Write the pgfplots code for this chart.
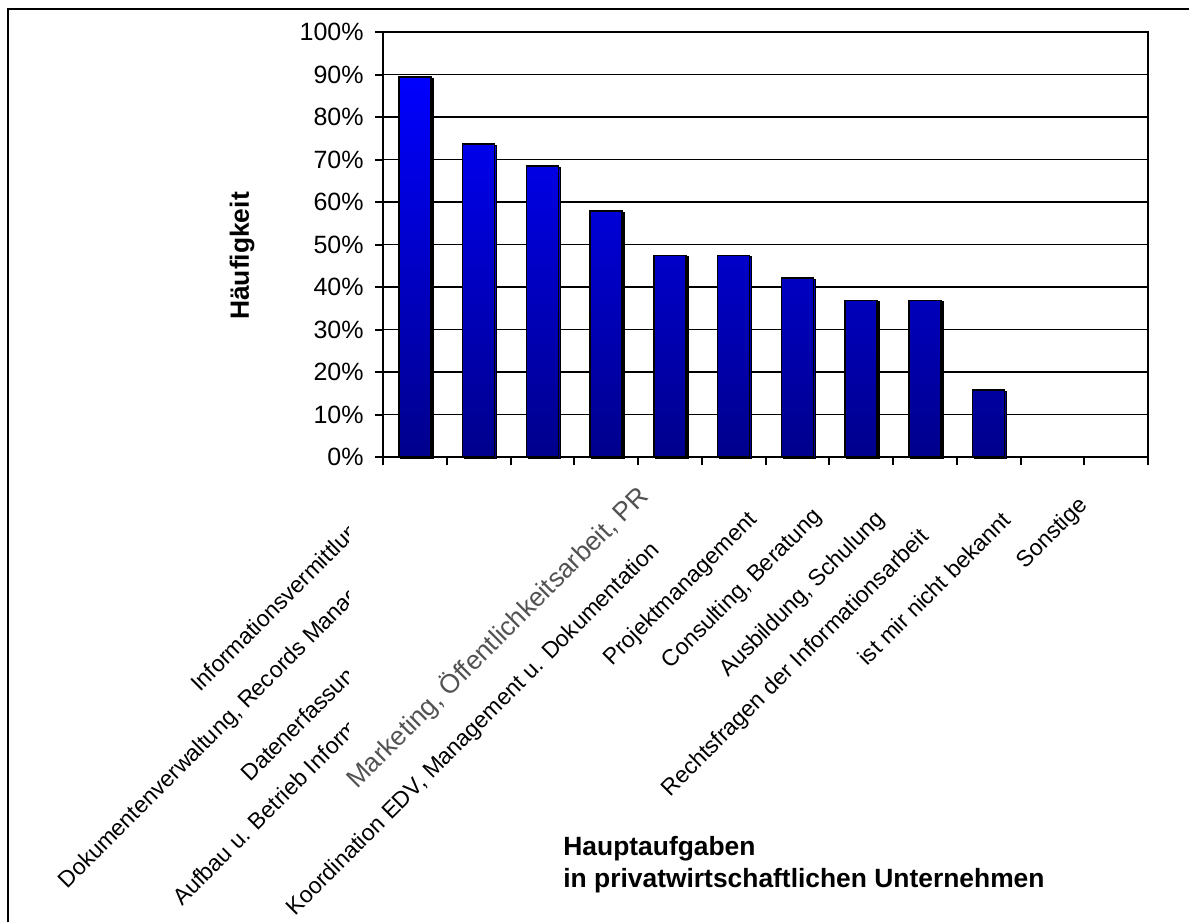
\documentclass[border=0pt]{standalone}
\usepackage{pgfplots}
\usepackage{pgfplotstable}
\pgfplotsset{compat=1.18}
\usepackage{fontspec}
\setmainfont{Liberation Sans}

\definecolor{barTop}{RGB}{0,0,255}
\definecolor{barBottom}{RGB}{0,0,140}

% Anteil der Nennungen je Hauptaufgabe (in %)
\pgfplotstableread{
x  val
1  89.47
2  73.68
3  68.42
4  57.89
5  47.37
6  47.37
7  42.11
8  36.84
9  36.84
10 15.79
11 0
12 0
}\aufgaben

\begin{document}
\begin{tikzpicture}[x=0.5pt,y=-0.5pt]
\path[use as bounding box] (0,0) rectangle (1189,922);
% Rahmen
\draw[line width=1.1pt] (8,922) -- (8,9) -- (1189,9);

\begin{axis}[
  at={(191.5pt,-228.5pt)}, anchor=south west,
  scale only axis, width=382.5pt, height=212.5pt,
  xmin=0.5, xmax=12.5, ymin=0, ymax=100,
  xtick={0.5,1.5,...,12.5}, xticklabel=\empty,
  ytick={0,10,...,100},
  yticklabel={\pgfmathprintnumber{\tick}\%},
  /pgf/number format/assume math mode=true,
  yticklabel style={font=\fontsize{12.5}{14}\selectfont, anchor=east, inner sep=0pt, xshift=-5.5pt},
  xtick pos=left, ytick pos=left,
  tick align=outside, major tick length=4pt,
  tick style={black, line width=1pt},
  ymajorgrids, grid style={black, line width=0.6pt},
  axis line style={black, line width=1.2pt},
  clip=false,
]
\addplot[ybar, bar width=0.5, draw=black, line width=0.8pt,
  top color=barTop, bottom color=barBottom,
  preaction={fill=black!30, transform canvas={xshift=1pt, yshift=-0.8pt}},
  restrict y to domain=0.001:100]
  table[x=x, y=val]{\aufgaben};
\end{axis}

% Kategorienbeschriftung
\tikzset{lab/.style={rotate=45, anchor=base west, inner sep=0pt, font=\fontsize{11.5}{14}\selectfont}}
\begin{scope}
\clip (0,0) rectangle (348,922);
\node[lab] at (200,693) {Informationsvermittlung};
\node[lab] at (67,890) {Dokumentenverwaltung, Records Management};
\node[lab] at (250,783) {Datenerfassung};
\node[lab] at (182,907) {Aufbau u. Betrieb Informationssysteme};
\end{scope}
\node[lab, text=black!68, font=\fontsize{13.2}{16}\selectfont] at (357,790) {Marketing, Öffentlichkeitsarbeit, PR};
\node[lab] at (295,917) {Koordination EDV, Management u. Dokumentation};
\node[lab] at (612,667) {Projektmanagement};
\node[lab] at (670,670) {Consulting, Beratung};
\node[lab] at (728,678) {Ausbildung, Schulung};
\node[lab] at (670,798) {Rechtsfragen der Informationsarbeit};
\node[lab] at (867,667) {ist mir nicht bekannt};
\node[lab] at (1025,570) {Sonstige};

% Achsentitel
\node[rotate=90, font=\bfseries\fontsize{13.2}{16}\selectfont] at (242,256) {Häufigkeit};
\node[anchor=base west, inner sep=0pt, font=\bfseries\fontsize{13.2}{16}\selectfont] at (563,855) {Hauptaufgaben};
\node[anchor=base west, inner sep=0pt, font=\bfseries\fontsize{13.2}{16}\selectfont] at (563,887) {in privatwirtschaftlichen Unternehmen};
\end{tikzpicture}
\end{document}
